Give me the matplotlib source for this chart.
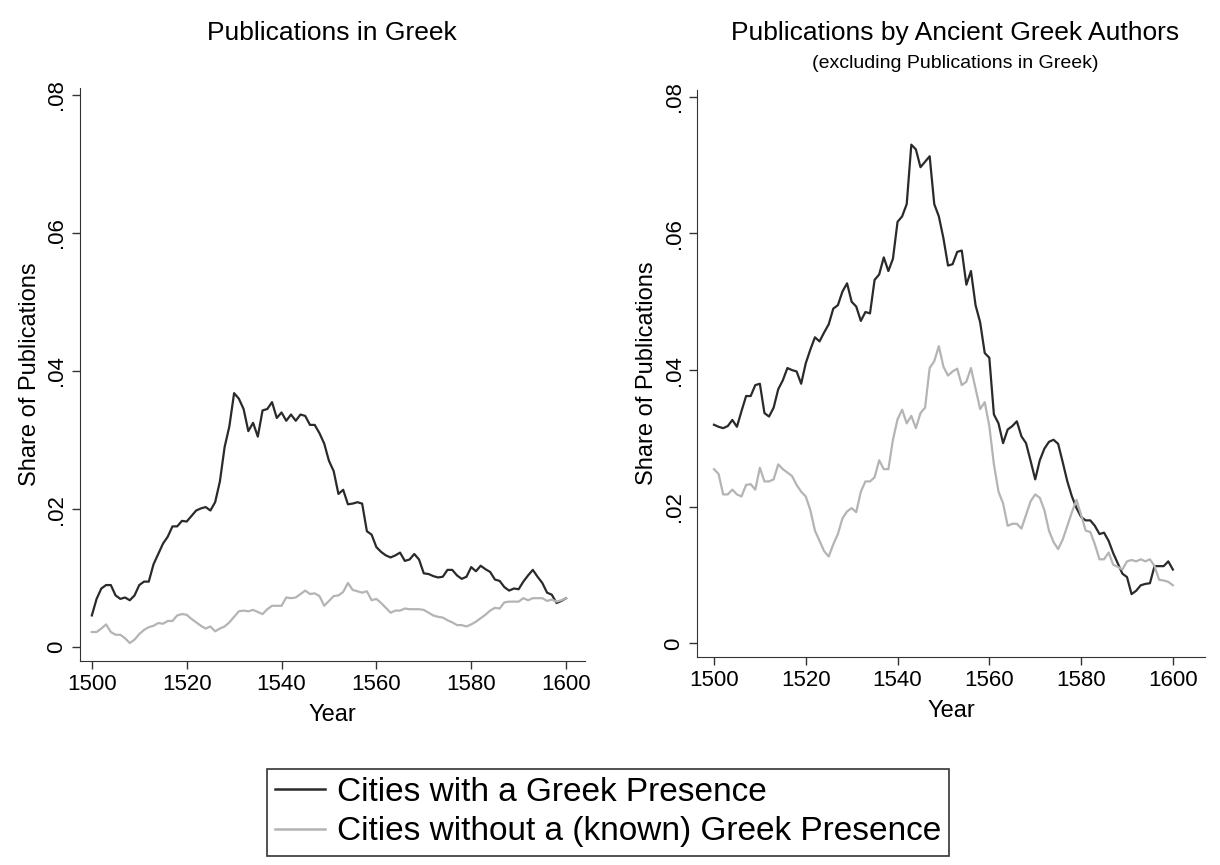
import matplotlib.pyplot as plt
import numpy as np
from matplotlib.lines import Line2D

plt.rcParams['font.family'] = ['Liberation Sans', 'DejaVu Sans']

years = np.arange(1500, 1601)

# Publications in Greek
greek_with = [0.0046, 0.007, 0.0085, 0.009, 0.009, 0.0075, 0.007, 0.0072, 0.0068, 0.0075,
              0.009, 0.0095, 0.0095, 0.012, 0.0135, 0.015, 0.016, 0.0175, 0.0175, 0.0183,
              0.0182, 0.019, 0.0198, 0.0201, 0.0203, 0.0198, 0.021, 0.024, 0.029, 0.032,
              0.0368, 0.036, 0.0345, 0.0313, 0.0325, 0.0305, 0.0343, 0.0345, 0.0355, 0.0332,
              0.034, 0.0328, 0.0337, 0.0328, 0.0337, 0.0335, 0.0322, 0.0322, 0.031, 0.0295,
              0.027, 0.0255, 0.0222, 0.0228, 0.0207, 0.0208, 0.021, 0.0208, 0.0168, 0.0163,
              0.0145, 0.0138, 0.0133, 0.013, 0.0133, 0.0137, 0.0125, 0.0127, 0.0135, 0.0127,
              0.0107, 0.0106, 0.0103, 0.0101, 0.0102, 0.0112, 0.0112, 0.0104, 0.0099, 0.0102,
              0.0116, 0.011, 0.0118, 0.0113, 0.0109, 0.0098, 0.0096, 0.0087, 0.0082, 0.0085,
              0.0084, 0.0095, 0.0104, 0.0112, 0.0102, 0.0093, 0.0079, 0.0076, 0.0064, 0.0067,
              0.0071]
greek_without = [0.0022, 0.0022, 0.0027, 0.0033, 0.0022, 0.0018, 0.0018, 0.0013, 0.0006, 0.0011,
                 0.0019, 0.0025, 0.0029, 0.0031, 0.0035, 0.0034, 0.0038, 0.0038, 0.0046, 0.0048,
                 0.0047, 0.0041, 0.0036, 0.0031, 0.0027, 0.003, 0.0023, 0.0027, 0.003, 0.0036,
                 0.0044, 0.0052, 0.0053, 0.0052, 0.0054, 0.0051, 0.0048, 0.0055, 0.006, 0.006,
                 0.006, 0.0072, 0.0071, 0.0072, 0.0077, 0.0082, 0.0077, 0.0078, 0.0074, 0.006,
                 0.0067, 0.0074, 0.0075, 0.008, 0.0093, 0.0083, 0.0081, 0.0079, 0.0081, 0.0068,
                 0.007, 0.0064, 0.0057, 0.005, 0.0053, 0.0053, 0.0056, 0.0055, 0.0055, 0.0055,
                 0.0054, 0.005, 0.0046, 0.0044, 0.0043, 0.0039, 0.0036, 0.0032, 0.0032, 0.003,
                 0.0033, 0.0037, 0.0042, 0.0047, 0.0053, 0.0057, 0.0056, 0.0065, 0.0066, 0.0066,
                 0.0066, 0.0071, 0.0068, 0.0071, 0.0071, 0.0071, 0.0067, 0.0069, 0.0066, 0.0068,
                 0.0071]

# Publications by Ancient Greek Authors
ancient_with = [0.032, 0.0317, 0.0315, 0.0318, 0.0327, 0.0317, 0.034, 0.0362, 0.0362, 0.0378,
                0.038, 0.0337, 0.0332, 0.0345, 0.0372, 0.0385, 0.0403, 0.04, 0.0398, 0.038,
                0.041, 0.043, 0.0448, 0.0442, 0.0455, 0.0467, 0.049, 0.0495, 0.0515, 0.0527,
                0.05, 0.0493, 0.0472, 0.0485, 0.0483, 0.0532, 0.054, 0.0565, 0.0545, 0.0563,
                0.0617, 0.0625, 0.0643, 0.073, 0.0723, 0.0697, 0.0705, 0.0713, 0.0643, 0.0625,
                0.0593, 0.0553, 0.0555, 0.0573, 0.0575, 0.0525, 0.0545, 0.0495, 0.047, 0.0425,
                0.0418, 0.0335, 0.0322, 0.0293, 0.0313, 0.0318, 0.0325, 0.0303, 0.0293, 0.0267,
                0.024, 0.0268, 0.0285, 0.0295, 0.0298, 0.0292, 0.0265, 0.0237, 0.0215, 0.0198,
                0.0185, 0.018, 0.018, 0.0172, 0.016, 0.0162, 0.015, 0.0132, 0.0117, 0.0102,
                0.0097, 0.0072, 0.0077, 0.0085, 0.0087, 0.0088, 0.0113, 0.0113, 0.0113, 0.012,
                0.0108]
ancient_without = [0.0255, 0.0248, 0.0218, 0.0218, 0.0225, 0.0218, 0.0215, 0.0232, 0.0233, 0.0225,
                   0.0257, 0.0237, 0.0237, 0.024, 0.0262, 0.0255, 0.025, 0.0245, 0.0232, 0.0222,
                   0.0215, 0.0195, 0.0165, 0.015, 0.0135, 0.0127, 0.0145, 0.016, 0.0183, 0.0193,
                   0.0198, 0.0192, 0.0222, 0.0237, 0.0237, 0.0243, 0.0268, 0.0255, 0.0255, 0.0298,
                   0.0328, 0.0342, 0.0322, 0.0333, 0.0315, 0.0337, 0.0345, 0.0403, 0.0413, 0.0435,
                   0.0405, 0.0392, 0.0398, 0.0402, 0.0378, 0.0383, 0.0403, 0.0373, 0.0343, 0.0353,
                   0.0318, 0.0262, 0.0222, 0.0205, 0.0172, 0.0175, 0.0175, 0.0168, 0.0188, 0.0208,
                   0.0218, 0.0213, 0.0195, 0.0165, 0.0148, 0.0138, 0.0152, 0.0172, 0.0192, 0.021,
                   0.0188, 0.0165, 0.0163, 0.0145, 0.0123, 0.0123, 0.0133, 0.0115, 0.0112, 0.0108,
                   0.012, 0.0122, 0.012, 0.0123, 0.012, 0.0123, 0.0113, 0.0093, 0.0092, 0.009,
                   0.0085]

yticks = [0, 0.02, 0.04, 0.06, 0.08]
ytick_labels = ['0', '.02', '.04', '.06', '.08']
xticks = [1500, 1520, 1540, 1560, 1580, 1600]
labels = ['Cities with a Greek Presence', 'Cities without a (known) Greek Presence']
c_dark = '#2a2a2a'
c_light = '#b4b4b4'

fig = plt.figure(figsize=(12.2, 8.65), dpi=100)
ax1 = fig.add_axes([80/1220, 1-661/865, 505/1220, 573/865])
ax2 = fig.add_axes([697/1220, 1-657/865, 508/1220, 567/865])

for ax, a, b, xl in [(ax1, greek_with, greek_without, (1497.5, 1604)),
                     (ax2, ancient_with, ancient_without, (1496.3, 1607))]:
    ax.plot(years, a, color=c_dark, lw=1.6)
    ax.plot(years, b, color=c_light, lw=1.6)
    ax.set_xlim(*xl)
    ax.set_ylim(-0.002, 0.081)
    ax.set_yticks(yticks)
    ax.set_yticklabels(ytick_labels, rotation=90, va='center')
    ax.set_xticks(xticks)
    ax.tick_params(labelsize=16, length=6, width=1, color='#333333', pad=3)
    ax.spines['top'].set_visible(False)
    ax.spines['right'].set_visible(False)
    ax.spines['left'].set_color('#333333')
    ax.spines['bottom'].set_color('#333333')
    ax.set_xlabel('Year', fontsize=17, labelpad=7)
    ax.set_ylabel('Share of Publications', fontsize=17, labelpad=4)

fig.text(332/1220, 1-33/865, 'Publications in Greek', ha='center', va='center', fontsize=19)
fig.text(955/1220, 1-33/865, 'Publications by Ancient Greek Authors', ha='center', va='center', fontsize=19)
fig.text(955/1220, 1-63/865, '(excluding Publications in Greek)', ha='center', va='center', fontsize=14)

handles = [Line2D([], [], color=c_dark, lw=1.8), Line2D([], [], color=c_light, lw=1.8)]
leg = fig.legend(handles, labels, loc='center', bbox_to_anchor=(608/1220, 1-812/865),
                 fontsize=24, frameon=True, fancybox=False, edgecolor='black',
                 handlelength=1.5, handletextpad=0.35, labelspacing=0.25, borderpad=0.25,
                 borderaxespad=0)
leg.get_frame().set_linewidth(1.2)

fig.savefig('out.png', dpi=100)
